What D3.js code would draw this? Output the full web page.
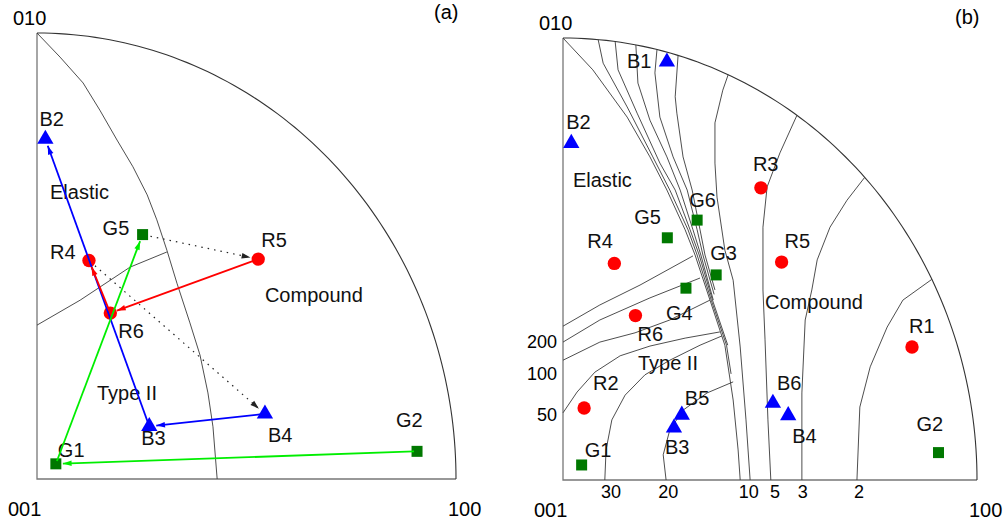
<!DOCTYPE html>
<html>
<head>
<meta charset="utf-8">
<script src="https://cdn.jsdelivr.net/npm/d3@7/dist/d3.min.js"></script>
<style>
  body { margin: 0; background: #fff; }
  svg { font-family: "Liberation Sans", Arial, sans-serif; }
</style>
</head>
<body>
<svg id="chart" width="1005" height="524"></svg>
<script>
// Orientations in IPF units (0-100 along 001->100 and 001->010)
const names = ["B1","B2","B3","B4","B5","B6","R1","R2","R3","R4","R5","R6","G1","G2","G3","G4","G5","G6"];
const posX  = [25.1, 2.0, 26.8, 54.4, 28.7, 50.7, 84.3, 5.1, 47.8, 12.4, 52.8, 17.5, 4.5, 90.7, 37.0, 29.7, 25.2, 32.4];
const posY  = [94.6, 76.2, 11.8, 14.6, 14.7, 17.4, 30.1, 16.3, 66.1, 49.0, 49.3, 37.2, 3.4, 6.2, 46.4, 43.4, 54.8, 58.8];

// Panel (a): shown orientations and transitions
const namesA = ["B2","B3","B4","R4","R5","R6","G1","G2","G5"];
const arrowsA = [["B3","B2"],["B4","B3"],["R6","R4"],["R5","R6"],["G1","G5"],["G2","G1"],["G5","R5"],["R4","B4"]];

// Panel (a) region boundaries
const boundaryA = [
  [[0,100],[5.5,94.6],[11.0,88.8],[15.0,82.7],[19.1,76.0],[22.9,70.0],[26.3,63.7],[28.6,58.1],[31.0,51.3],[33.4,43.9],[36.5,35.0],[38.9,27.8],[40.8,19.3],[42.0,11.7],[43.0,0]],
  [[0,34.5],[10.3,40.1],[22.2,47.5],[31.0,50.9]]
];

// Panel (b) contours
const upperB = [
  [[0,100],[7.2,92.8],[15.5,82.1],[21.0,73.1],[25.1,65.6],[29.5,56.6],[31.9,50.9],[35.5,40.7],[39.1,30.5],[41.1,18.1],[42.3,6.8],[42.8,0]],
  [[8.5,99.6],[9.7,94.3],[15.5,84.4],[21.7,73.1],[25.8,65.6],[30.2,56.6],[32.4,50.9],[35.8,40.7],[39.5,30.5],[40.6,24.0]],
  [[12.6,99.2],[13.3,92.8],[17.9,83.0],[23.4,71.7],[27.1,65.6],[30.7,56.6],[32.9,50.9],[36.1,40.7],[39.8,30.5]],
  [[17.6,98.4],[18.1,89.8],[21.0,81.4],[25.1,73.1],[28.3,65.6],[31.4,56.6],[33.3,50.9],[36.3,40.7]],
  [[22.7,97.4],[22.2,92.1],[23.4,82.1],[26.6,73.1],[30.0,65.6],[32.4,56.6],[33.8,50.9],[36.5,42.0]],
  [[27.8,96.1],[27.1,86.7],[27.5,83.0],[29.0,73.1],[31.2,65.6],[33.1,56.6],[34.3,50.9],[36.7,43.0]]
];
const verticalB = [
  [[39.9,91.7],[38.6,88.2],[36.7,80.8],[36.7,71.7],[37.2,64.0],[39.1,52.0],[41.1,45.2],[42.8,30.1],[44.2,13.6],[45.2,0]],
  [[56.5,82.5],[52.4,74.0],[49.3,66.3],[48.3,57.2],[48.3,43.0],[48.8,31.7],[49.5,13.6],[50.2,0]],
  [[72.9,68.5],[68.6,63.3],[64.5,57.2],[61.4,49.8],[60.1,43.0],[58.5,36.2],[57.7,19.7],[57.7,0]],
  [[89.1,45.4],[82.1,40.7],[78.3,34.6],[74.2,25.6],[71.7,16.5],[71.0,0]]
];
const lowerB = [
  [[0,34.8],[8.9,39.6],[18.6,44.1],[31.4,50.7]],
  [[0,31.2],[8.9,36.2],[21.0,41.2],[33.1,45.7]],
  [[0,27.1],[8.9,31.2],[17.4,33.3],[25.8,36.2],[35.5,40.7]],
  [[0,15.2],[3.4,19.9],[7.7,24.4],[13.8,28.1],[21.0,30.3],[29.5,32.1],[37.9,33.5]],
  [[10.1,0],[10.4,6.8],[11.8,13.6],[15.0,19.2],[19.8,23.8],[25.8,27.1],[33.1,30.5],[38.4,32.6]],
  [[24.9,0],[24.2,5.7],[25.8,11.3],[29.0,15.8],[34.8,19.7],[41.1,22.2]]
];

// Contour tick labels of panel (b)
const bottomTicks = ["30","20","10","5","3","2"];
const bottomTickPos = [11.6, 25.4, 44.9, 51.2, 57.9, 71.5];
const leftTicks = ["200","100","50"];
const leftTickPos = [31.4, 24.2, 14.9];

// Layout
const panels = [
  { id: "a", range: [37, 456, 479, 33], shown: namesA,
    regions: [["Elastic",3.1,62.8],["Compound",54.4,39.7],["Type II",14.3,17.7]],
    offsets: { B2:[-6,-13], G5:[-40,0], R4:[-39,-1], R5:[3,-12], R6:[8,25], B3:[-8,19], B4:[3,28], G1:[2,-7], G2:[-21,-24] } },
  { id: "b", range: [563, 977, 480, 38], shown: names,
    regions: [["Elastic",2.4,66.3],["Compound",48.8,38.7],["Type II",18.1,24.9]],
    offsets: { B1:[-40,6], B2:[-5,-14], R3:[-8,-17], G6:[-8,-13], G5:[-33,-14], R4:[-27,-15], R5:[3,-14], G3:[-6,-15],
               G4:[-20,32], R6:[2,25], R1:[-3,-14], R2:[9,-18], B6:[4,-13], B5:[3,-10], B4:[4,28], B3:[-9,26], G2:[-22,-22], G1:[3,-8] } }
];

const colors = { B: "#0000ff", R: "#ff0000", G: "#00ee00" };
const fills  = { B: "#0000ff", R: "#ff0000", G: "#007800" };

const svg = d3.select("#chart");

// Arrowheads
const defs = svg.append("defs");
Object.entries({ B: colors.B, R: colors.R, G: colors.G, K: "#222" }).forEach(([k, c]) => {
  defs.append("marker")
    .attr("id", "head-" + k)
    .attr("viewBox", "0 -4 10 8")
    .attr("refX", 10).attr("refY", 0)
    .attr("markerWidth", 10).attr("markerHeight", 7)
    .attr("markerUnits", "userSpaceOnUse")
    .attr("orient", "auto")
    .append("path")
    .attr("d", "M0,-3.2L10,0L0,3.2Z")
    .attr("fill", c);
});

function drawPanel(p) {
  const [xa, xb, ya, yb] = p.range;
  const x = d3.scaleLinear().domain([0, 100]).range([xa, xb]);
  const y = d3.scaleLinear().domain([0, 100]).range([ya, yb]);
  const g = svg.append("g").attr("id", "panel-" + p.id);
  const line = d3.line().x(d => x(d[0])).y(d => y(d[1]));
  const pt = n => { const i = names.indexOf(n); return [x(posX[i]), y(posY[i])]; };

  // Frame: two edges and the outer quarter arc
  g.append("path")
    .attr("d", line([[0, 100], [0, 0], [100, 0]]))
    .attr("fill", "none").attr("stroke", "#777").attr("stroke-width", 1.3);
  const arc = d3.range(0, 90.5, 1).map(a => [100 * Math.sin(a * Math.PI / 180), 100 * Math.cos(a * Math.PI / 180)]);
  g.append("path")
    .attr("d", line(arc))
    .attr("fill", "none").attr("stroke", "#333").attr("stroke-width", 1.1);

  // Region boundaries / contours
  const curves = p.id === "a" ? boundaryA : upperB.concat(verticalB, lowerB);
  g.selectAll("path.contour")
    .data(curves)
    .enter().append("path")
    .attr("class", "contour")
    .attr("d", line)
    .attr("fill", "none").attr("stroke", "#3a3a3a").attr("stroke-width", 0.9);

  // Corner labels
  g.append("text").attr("x", x(0) - 24).attr("y", y(100) - 8).attr("font-size", 20).text("010");
  g.append("text").attr("x", x(0) - 29).attr("y", y(0) + 37).attr("font-size", 20).text("001");
  g.append("text").attr("x", x(100) - 8).attr("y", y(0) + 37).attr("font-size", 20).text("100");
  g.append("text").attr("x", x(100) - 22).attr("y", y(100) - 14).attr("font-size", 20).text("(" + p.id + ")");

  // Region names
  g.selectAll("text.region")
    .data(p.regions)
    .enter().append("text")
    .attr("class", "region")
    .attr("x", d => x(d[1])).attr("y", d => y(d[2]))
    .attr("font-size", 20).attr("fill", "#111")
    .text(d => d[0]);

  // Contour values (panel b)
  if (p.id === "b") {
    g.selectAll("text.btick")
      .data(bottomTicks)
      .enter().append("text")
      .attr("class", "btick")
      .attr("x", (d, i) => x(bottomTickPos[i])).attr("y", y(0) + 18)
      .attr("text-anchor", "middle").attr("font-size", 18)
      .text(d => d);
    g.selectAll("text.ltick")
      .data(leftTicks)
      .enter().append("text")
      .attr("class", "ltick")
      .attr("x", x(0) - 6).attr("y", (d, i) => y(leftTickPos[i]) + 7)
      .attr("text-anchor", "end").attr("font-size", 18)
      .text(d => d);
  }

  // Markers
  const shown = p.shown;
  g.selectAll("path.marker")
    .data(shown)
    .enter().append("path")
    .attr("class", "marker")
    .attr("transform", d => `translate(${pt(d)})`)
    .attr("d", d => {
      const t = d[0];
      if (t === "B") return d3.symbol(d3.symbolTriangle, 115)();
      if (t === "G") return d3.symbol(d3.symbolSquare, 121)();
      return d3.symbol(d3.symbolCircle, 140)();
    })
    .attr("fill", d => fills[d[0]]);

  // Marker labels
  g.selectAll("text.mlabel")
    .data(shown)
    .enter().append("text")
    .attr("class", "mlabel")
    .attr("x", d => pt(d)[0] + p.offsets[d][0])
    .attr("y", d => pt(d)[1] + p.offsets[d][1])
    .attr("font-size", 20).attr("fill", "#111")
    .text(d => d);

  // Transitions
  if (p.id === "a") {
    arrowsA.forEach(([from, to]) => {
      const a = pt(from), b = pt(to);
      const same = from[0] === to[0];
      const dx = b[0] - a[0], dy = b[1] - a[1];
      const len = Math.hypot(dx, dy);
      const s0 = same ? 3 : 8, s1 = same ? 7 : 8;
      g.append("line")
        .attr("x1", a[0] + dx * s0 / len).attr("y1", a[1] + dy * s0 / len)
        .attr("x2", b[0] - dx * s1 / len).attr("y2", b[1] - dy * s1 / len)
        .attr("stroke", same ? colors[from[0]] : "#222")
        .attr("stroke-width", same ? 1.8 : 1.2)
        .attr("stroke-dasharray", same ? null : "1.5,5")
        .attr("marker-end", `url(#head-${same ? from[0] : "K"})`);
    });
  }
}

panels.forEach(drawPanel);
</script>
</body>
</html>
